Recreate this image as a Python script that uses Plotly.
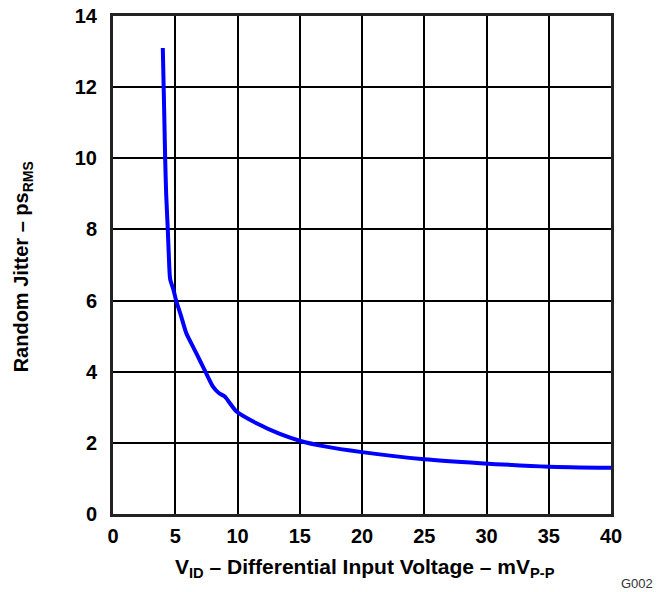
import plotly.graph_objects as go

vid_mv = [4.0, 4.07, 4.13, 4.19, 4.27, 4.40, 4.48, 4.59, 4.86, 5.07, 5.48, 5.89, 6.5, 6.96,
          7.42, 8.03, 8.5, 8.98, 9.92, 11.53, 13.4, 15.0, 17.0, 20.0, 25.0, 29.5, 35.0, 40.0]
jitter_ps = [13.1, 12.0, 11.0, 10.0, 9.0, 8.0, 7.3, 6.6, 6.3, 6.0, 5.55, 5.08, 4.65, 4.33,
             4.0, 3.58, 3.40, 3.30, 2.88, 2.55, 2.25, 2.06, 1.90, 1.74, 1.54, 1.43, 1.33, 1.30]

x_ticks = [0, 5, 10, 15, 20, 25, 30, 35, 40]
y_ticks = [0, 2, 4, 6, 8, 10, 12, 14]

fig = go.Figure()
fig.add_trace(go.Scatter(
    x=vid_mv, y=jitter_ps, mode="lines",
    line=dict(color="#0000FF", width=4, shape="spline", smoothing=0.6),
    showlegend=False, hoverinfo="skip",
))

font = "Liberation Sans, Arial, sans-serif"
axis_common = dict(
    showgrid=True, gridcolor="black", gridwidth=1.5,
    showline=True, linecolor="#222222", linewidth=3, mirror=True,
    zeroline=False, ticks="", automargin=False, ticklabeloverflow="allow",
    tickfont=dict(family=font, size=20, color="black", weight="bold"),
)

fig.update_xaxes(range=[0, 40], tickvals=x_ticks, ticktext=[str(v) for v in x_ticks],
                 ticklabelstandoff=2, **axis_common)
fig.update_yaxes(range=[0, 14], tickvals=y_ticks, ticktext=[str(v) for v in y_ticks],
                 ticklabelstandoff=9, **axis_common)

fig.update_layout(
    width=658, height=584,
    margin=dict(l=105, r=55, t=8, b=78),
    plot_bgcolor="white", paper_bgcolor="white",
    font=dict(family=font, color="black"),
    annotations=[
        dict(text="<b>V<sub>ID</sub> – Differential Input Voltage – mV<sub>P-P</sub></b>",
             xref="paper", yref="paper", x=0.506, y=-0.108, xanchor="center", yanchor="middle",
             showarrow=False, font=dict(family=font, size=21, color="black")),
        dict(text="<b>Random Jitter – ps<sub>RMS</sub></b>",
             xref="paper", yref="paper", x=-0.18, y=0.496, xanchor="center", yanchor="middle",
             textangle=-90, showarrow=False, font=dict(family=font, size=20, color="black")),
        dict(text="G002", xref="paper", yref="paper", x=1.088, y=-0.139,
             xanchor="right", yanchor="middle", showarrow=False,
             font=dict(family=font, size=13, color="#333333")),
    ],
)

fig.write_html("out.html")
